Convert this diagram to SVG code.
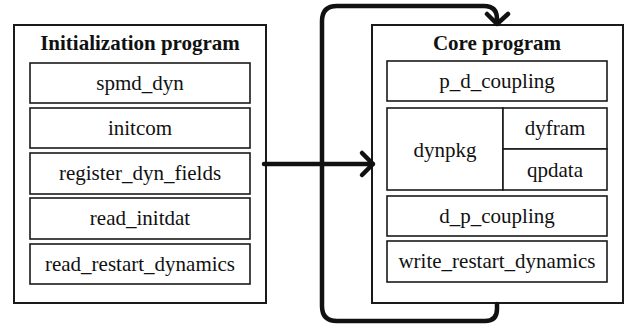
<svg xmlns="http://www.w3.org/2000/svg" width="633" height="328" viewBox="0 0 633 328">
<style>
.outer{fill:#fff;stroke:#1a1a1a;stroke-width:2}
.box{fill:#fff;stroke:#1a1a1a;stroke-width:1.6}
.t{font-family:"Liberation Serif","Times New Roman",serif;font-size:21px;fill:#111;text-anchor:middle}
.h{font-weight:bold}
.c{fill:none;stroke:#111;stroke-width:4.5;stroke-linecap:round;stroke-linejoin:round}
</style>
<rect width="633" height="328" fill="#fff"/>
<g id="init">
<rect class="outer" x="14" y="25" width="252" height="278"/>
<text class="t h" x="140" y="50">Initialization program</text>
</g>
<g id="spmd_dyn"><rect class="box" x="30" y="63" width="220" height="40"/><text class="t" x="140" y="90">spmd_dyn</text></g>
<g id="initcom"><rect class="box" x="30" y="108" width="220" height="40"/><text class="t" x="140" y="135">initcom</text></g>
<g id="register_dyn_fields"><rect class="box" x="30" y="153" width="220" height="41"/><text class="t" x="140" y="180">register_dyn_fields</text></g>
<g id="read_initdat"><rect class="box" x="30" y="198" width="220" height="41"/><text class="t" x="140" y="225">read_initdat</text></g>
<g id="read_restart_dynamics"><rect class="box" x="30" y="244" width="220" height="40"/><text class="t" x="140" y="271">read_restart_dynamics</text></g>
<g id="core">
<rect class="outer" x="372" y="25" width="251" height="278"/>
<text class="t h" x="497" y="50">Core program</text>
</g>
<g id="p_d_coupling"><rect class="box" x="387" y="61" width="220" height="40"/><text class="t" x="497" y="88">p_d_coupling</text></g>
<g id="dynpkg"><rect class="box" x="387" y="108" width="116" height="82"/><text class="t" x="445" y="157">dynpkg</text></g>
<g id="dyfram"><rect class="box" x="503" y="108" width="104" height="41"/><text class="t" x="555" y="135">dyfram</text></g>
<g id="qpdata"><rect class="box" x="503" y="149" width="104" height="41"/><text class="t" x="555" y="177">qpdata</text></g>
<g id="d_p_coupling"><rect class="box" x="387" y="196" width="220" height="40"/><text class="t" x="497" y="223">d_p_coupling</text></g>
<g id="write_restart_dynamics"><rect class="box" x="387" y="241" width="220" height="41"/><text class="t" x="497" y="268">write_restart_dynamics</text></g>
<g id="connectors">
<path class="c" d="M264,164 H373 M362,153 L373,164 L362,175"/>
<path class="c" d="M497,304 V309 Q497,321 485,321 H337 Q322,321 322,306 V21 Q322,6 337,6 H484 Q497,6 497,19 V24 M487,14 L497,24 L508,14"/>
</g>
</svg>
